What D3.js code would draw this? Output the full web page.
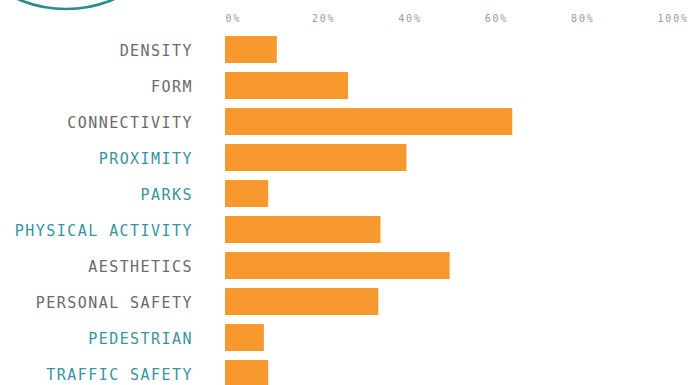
<!DOCTYPE html>
<html>
<head>
<meta charset="utf-8">
<script src="https://cdn.jsdelivr.net/npm/d3@7"></script>
<style>
  html, body { margin: 0; padding: 0; background: #fff; }
  svg { display: block; }
</style>
</head>
<body>
<svg id="chart" width="696" height="385"></svg>
<script>
const categories = ["DENSITY", "FORM", "CONNECTIVITY", "PROXIMITY", "PARKS",
  "PHYSICAL ACTIVITY", "AESTHETICS", "PERSONAL SAFETY", "PEDESTRIAN", "TRAFFIC SAFETY"];
const values = [0.12, 0.285, 0.665, 0.42, 0.10, 0.36, 0.52, 0.355, 0.09, 0.10];
const highlighted = ["PROXIMITY", "PARKS", "PHYSICAL ACTIVITY", "PEDESTRIAN", "TRAFFIC SAFETY"];
const tickValues = [0, 0.2, 0.4, 0.6, 0.8, 1.0];
const tickLabels = ["0%", "20%", "40%", "60%", "80%", "100%"];

const svg = d3.select("#chart");

// decorative logo arc in the top-left corner
svg.append("circle")
  .attr("cx", 66).attr("cy", -113).attr("r", 122)
  .attr("fill", "none").attr("stroke", "#2b8b92").attr("stroke-width", 2.6);

const x = d3.scaleLinear().domain([0, 1]).range([225, 657]);
const y = d3.scaleBand().domain(categories).range([36, 387])
  .paddingInner(0.25).paddingOuter(0);

// top axis (tick labels only)
const axis = d3.axisTop(x).tickValues(tickValues)
  .tickFormat((d, i) => tickLabels[i]).tickSize(0).tickPadding(0);
const ax = svg.append("g").attr("transform", "translate(0,22)").call(axis);
ax.select(".domain").remove();
ax.selectAll("text")
  .attr("text-anchor", "start")
  .attr("dy", 0)
  .attr("fill", "#9a9a9a")
  .style("font-family", "'DejaVu Sans Mono', monospace")
  .style("font-size", "10px")
  .style("letter-spacing", "1.8px");

// bars
svg.append("g").selectAll("rect")
  .data(categories)
  .join("rect")
  .attr("x", x(0))
  .attr("y", d => y(d))
  .attr("width", (d, i) => x(values[i]) - x(0))
  .attr("height", y.bandwidth())
  .attr("fill", "#f7992f");

// category labels
svg.append("g").selectAll("text")
  .data(categories)
  .join("text")
  .attr("x", 193)
  .attr("y", d => y(d) + y.bandwidth() / 2)
  .attr("dy", "0.42em")
  .attr("text-anchor", "end")
  .attr("fill", d => highlighted.includes(d) ? "#3595a0" : "#6a6a6a")
  .style("font-family", "'DejaVu Sans Mono', monospace")
  .style("font-size", "15px")
  .style("letter-spacing", "1.45px")
  .text(d => d);
</script>
</body>
</html>
